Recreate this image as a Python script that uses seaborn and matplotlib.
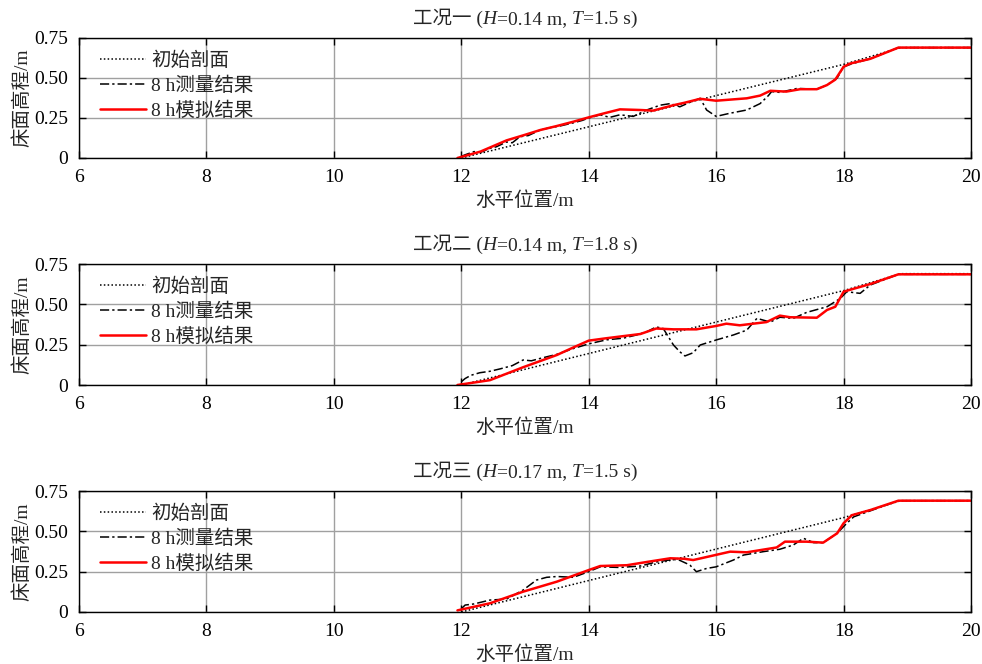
import numpy as np
import pandas as pd
import matplotlib
matplotlib.use('Agg')
import matplotlib.pyplot as plt
import seaborn as sns

# ---- data ----
panel_titles = [
    ['工况一 (', 'H', '=0.14 m, ', 'T', '=1.5 s)'],
    ['工况二 (', 'H', '=0.14 m, ', 'T', '=1.8 s)'],
    ['工况三 (', 'H', '=0.17 m, ', 'T', '=1.5 s)'],
]
series_labels = ['初始剖面', '8 h测量结果', '8 h模拟结果']

init_x = [12.0, 18.0, 18.9, 20.0]
init_y = [0.0, 0.585, 0.69, 0.69]

meas1_x = [12.0, 12.06, 12.2, 12.3, 12.45, 12.55, 12.71, 12.8, 12.92, 13.05, 13.24, 13.4, 13.55, 13.76,
           13.9, 14.0, 14.18, 14.33, 14.49, 14.7, 14.91, 15.12, 15.28, 15.43, 15.6, 15.75, 15.85, 16.0,
           16.22, 16.48, 16.69, 16.82, 16.87, 17.0, 17.27, 17.58, 17.74, 17.9, 18.0, 18.14, 18.42, 18.86,
           19.4, 20.0]
meas1_y = [0.01, 0.02, 0.04, 0.035, 0.06, 0.07, 0.10, 0.095, 0.133, 0.14, 0.175, 0.19, 0.20, 0.22,
           0.235, 0.25, 0.27, 0.254, 0.27, 0.26, 0.30, 0.33, 0.34, 0.32, 0.35, 0.373, 0.30, 0.26,
           0.28, 0.30, 0.34, 0.39, 0.415, 0.41, 0.435, 0.43, 0.456, 0.50, 0.57, 0.59, 0.62, 0.69,
           0.69, 0.69]
sim1_x = [11.94, 12.3, 12.71, 13.0, 13.24, 13.5, 13.76, 14.0, 14.25, 14.49, 14.81, 15.01, 15.33, 15.5,
          15.75, 16.0, 16.48, 16.69, 16.85, 17.1, 17.32, 17.58, 17.74, 17.87, 18.0, 18.1, 18.42, 18.86,
          20.0]
sim1_y = [0.0, 0.04, 0.11, 0.145, 0.175, 0.20, 0.227, 0.254, 0.28, 0.304, 0.30, 0.296, 0.33, 0.345,
          0.37, 0.358, 0.373, 0.39, 0.42, 0.415, 0.43, 0.43, 0.456, 0.49, 0.57, 0.59, 0.62, 0.69,
          0.69]

meas2_x = [12.0, 12.06, 12.15, 12.29, 12.45, 12.61, 12.8, 12.97, 13.1, 13.24, 13.5, 13.76, 14.0, 14.28,
           14.54, 14.75, 14.91, 15.06, 15.17, 15.33, 15.43, 15.51, 15.64, 15.75, 16.0, 16.27, 16.48,
           16.64, 16.85, 17.0, 17.21, 17.42, 17.74, 17.95, 18.05, 18.26, 18.42, 18.86, 20.0]
meas2_y = [0.02, 0.04, 0.06, 0.076, 0.085, 0.10, 0.12, 0.155, 0.15, 0.165, 0.19, 0.226, 0.255, 0.28,
           0.29, 0.31, 0.33, 0.36, 0.35, 0.248, 0.206, 0.18, 0.20, 0.248, 0.279, 0.31, 0.34,
           0.413, 0.39, 0.42, 0.413, 0.45, 0.485, 0.537, 0.578, 0.568, 0.62, 0.686, 0.686]
sim2_x = [11.94, 12.45, 12.97, 13.5, 13.76, 14.0, 14.28, 14.81, 15.06, 15.33, 15.69, 16.0, 16.16, 16.37,
          16.79, 17.0, 17.16, 17.58, 17.74, 17.87, 18.0, 18.1, 18.42, 18.86, 20.0]
sim2_y = [0.0, 0.03, 0.11, 0.186, 0.233, 0.275, 0.29, 0.316, 0.35, 0.345, 0.345, 0.366, 0.38, 0.37,
          0.39, 0.43, 0.42, 0.417, 0.465, 0.485, 0.578, 0.59, 0.626, 0.686, 0.686]

meas3_x = [12.0, 12.06, 12.2, 12.45, 12.71, 12.97, 13.18, 13.34, 13.5, 13.76, 14.0, 14.18, 14.49, 14.81,
           15.06, 15.33, 15.43, 15.54, 15.59, 15.69, 15.85, 16.0, 16.27, 16.43, 16.74, 17.0, 17.21,
           17.37, 17.53, 17.68, 17.9, 18.05, 18.16, 18.37, 18.86, 20.0]
meas3_y = [0.02, 0.043, 0.05, 0.074, 0.08, 0.136, 0.198, 0.215, 0.22, 0.215, 0.25, 0.28, 0.276, 0.285,
           0.31, 0.326, 0.32, 0.30, 0.29, 0.25, 0.27, 0.28, 0.322, 0.353, 0.374, 0.389, 0.415,
           0.457, 0.43, 0.43, 0.488, 0.55, 0.59, 0.62, 0.69, 0.69]
sim3_x = [11.94, 12.45, 12.97, 13.5, 14.0, 14.18, 14.6, 14.91, 15.28, 15.5, 15.64, 16.22, 16.48, 16.95,
          17.08, 17.42, 17.68, 17.9, 18.0, 18.13, 18.42, 18.86, 20.0]
sim3_y = [0.01, 0.054, 0.126, 0.188, 0.26, 0.285, 0.29, 0.31, 0.333, 0.33, 0.322, 0.374, 0.37, 0.40,
          0.436, 0.436, 0.43, 0.488, 0.55, 0.60, 0.632, 0.69, 0.69]

x_ticks = [6, 8, 10, 12, 14, 16, 18, 20]
y_ticks = [0, 0.25, 0.5, 0.75]
y_tick_labels = ['0', '0.25', '0.50', '0.75']
xlabel = '水平位置/m'
ylabel = '床面高程/m'

panels = [(meas1_x, meas1_y, sim1_x, sim1_y),
          (meas2_x, meas2_y, sim2_x, sim2_y),
          (meas3_x, meas3_y, sim3_x, sim3_y)]

sns.set_theme(style='ticks')
FONTS = ['Liberation Serif', 'Noto Sans CJK SC']
plt.rcParams['font.family'] = FONTS
plt.rcParams['axes.unicode_minus'] = False
FS = 14

fig = plt.figure(figsize=(9.82, 6.64), dpi=100)
W, H = 982, 664
# axes boxes in pixels: (left, top, right, bottom)
boxes = [(79, 38, 971, 158), (79, 264, 971, 385), (79, 491, 971, 612)]

title_parts = []
for i, (mx, my, sx, sy) in enumerate(panels):
    l, t, r, b = boxes[i]
    ax = fig.add_axes([l / W, 1 - b / H, (r - l) / W, (b - t) / H])
    sns.lineplot(x=init_x, y=init_y, ax=ax, color='black', linewidth=1.1,
                 linestyle=(0, (1, 1.5)), label=series_labels[0])
    sns.lineplot(x=mx, y=my, ax=ax, color='black', linewidth=1.1,
                 linestyle=(0, (6, 2, 1.5, 2)), label=series_labels[1])
    sns.lineplot(x=sx, y=sy, ax=ax, color='#ff0000', linewidth=1.8,
                 label=series_labels[2])
    ax.set_xlim(6, 20)
    ax.set_ylim(0, 0.75)
    ax.set_xticks(x_ticks)
    ax.set_xticklabels([str(v) for v in x_ticks], fontsize=FS)
    ax.set_yticks(y_ticks)
    ax.set_yticklabels(y_tick_labels, fontsize=FS)
    ax.grid(True, color='#a0a0a0', linewidth=1.0)
    ax.tick_params(direction='in', length=5, width=1, top=True, right=True,
                   colors='black', pad=8)
    for sp in ax.spines.values():
        sp.set_color('black')
        sp.set_linewidth(1.0)
    ax.set_xlabel(xlabel, fontsize=FS, labelpad=4)
    ax.set_ylabel(ylabel, fontsize=FS, labelpad=2)
    ax.legend(loc='upper left', bbox_to_anchor=(0.008, 1.0), frameon=False,
              fontsize=FS, handlelength=2.4, handletextpad=0.25,
              labelspacing=0.33, borderaxespad=0.3, borderpad=0.4)

    # title built from pieces so that H and T are italic
    parts = panel_titles[i]
    ty = 1 - (t - 20) / H
    first = fig.text(0.5, ty, parts[0], fontsize=FS, ha='left', va='center',
                     family=FONTS)
    arts = [first]
    prev = first
    for p in parts[1:]:
        style = 'italic' if p in ('H', 'T') else 'normal'
        ann = fig.add_artist(matplotlib.text.Annotation(
            p, xy=(1, 0), xycoords=prev, ha='left', va='bottom',
            fontsize=FS, fontstyle=style, family=FONTS))
        arts.append(ann)
        prev = ann
    title_parts.append((arts, (l + r) / 2 / W))

fig.canvas.draw()
renderer = fig.canvas.get_renderer()
for arts, cx in title_parts:
    x0 = arts[0].get_window_extent(renderer).x0
    x1 = arts[-1].get_window_extent(renderer).x1
    width = (x1 - x0) / W
    arts[0].set_x(cx - width / 2)

fig.savefig('out.png', dpi=100)
